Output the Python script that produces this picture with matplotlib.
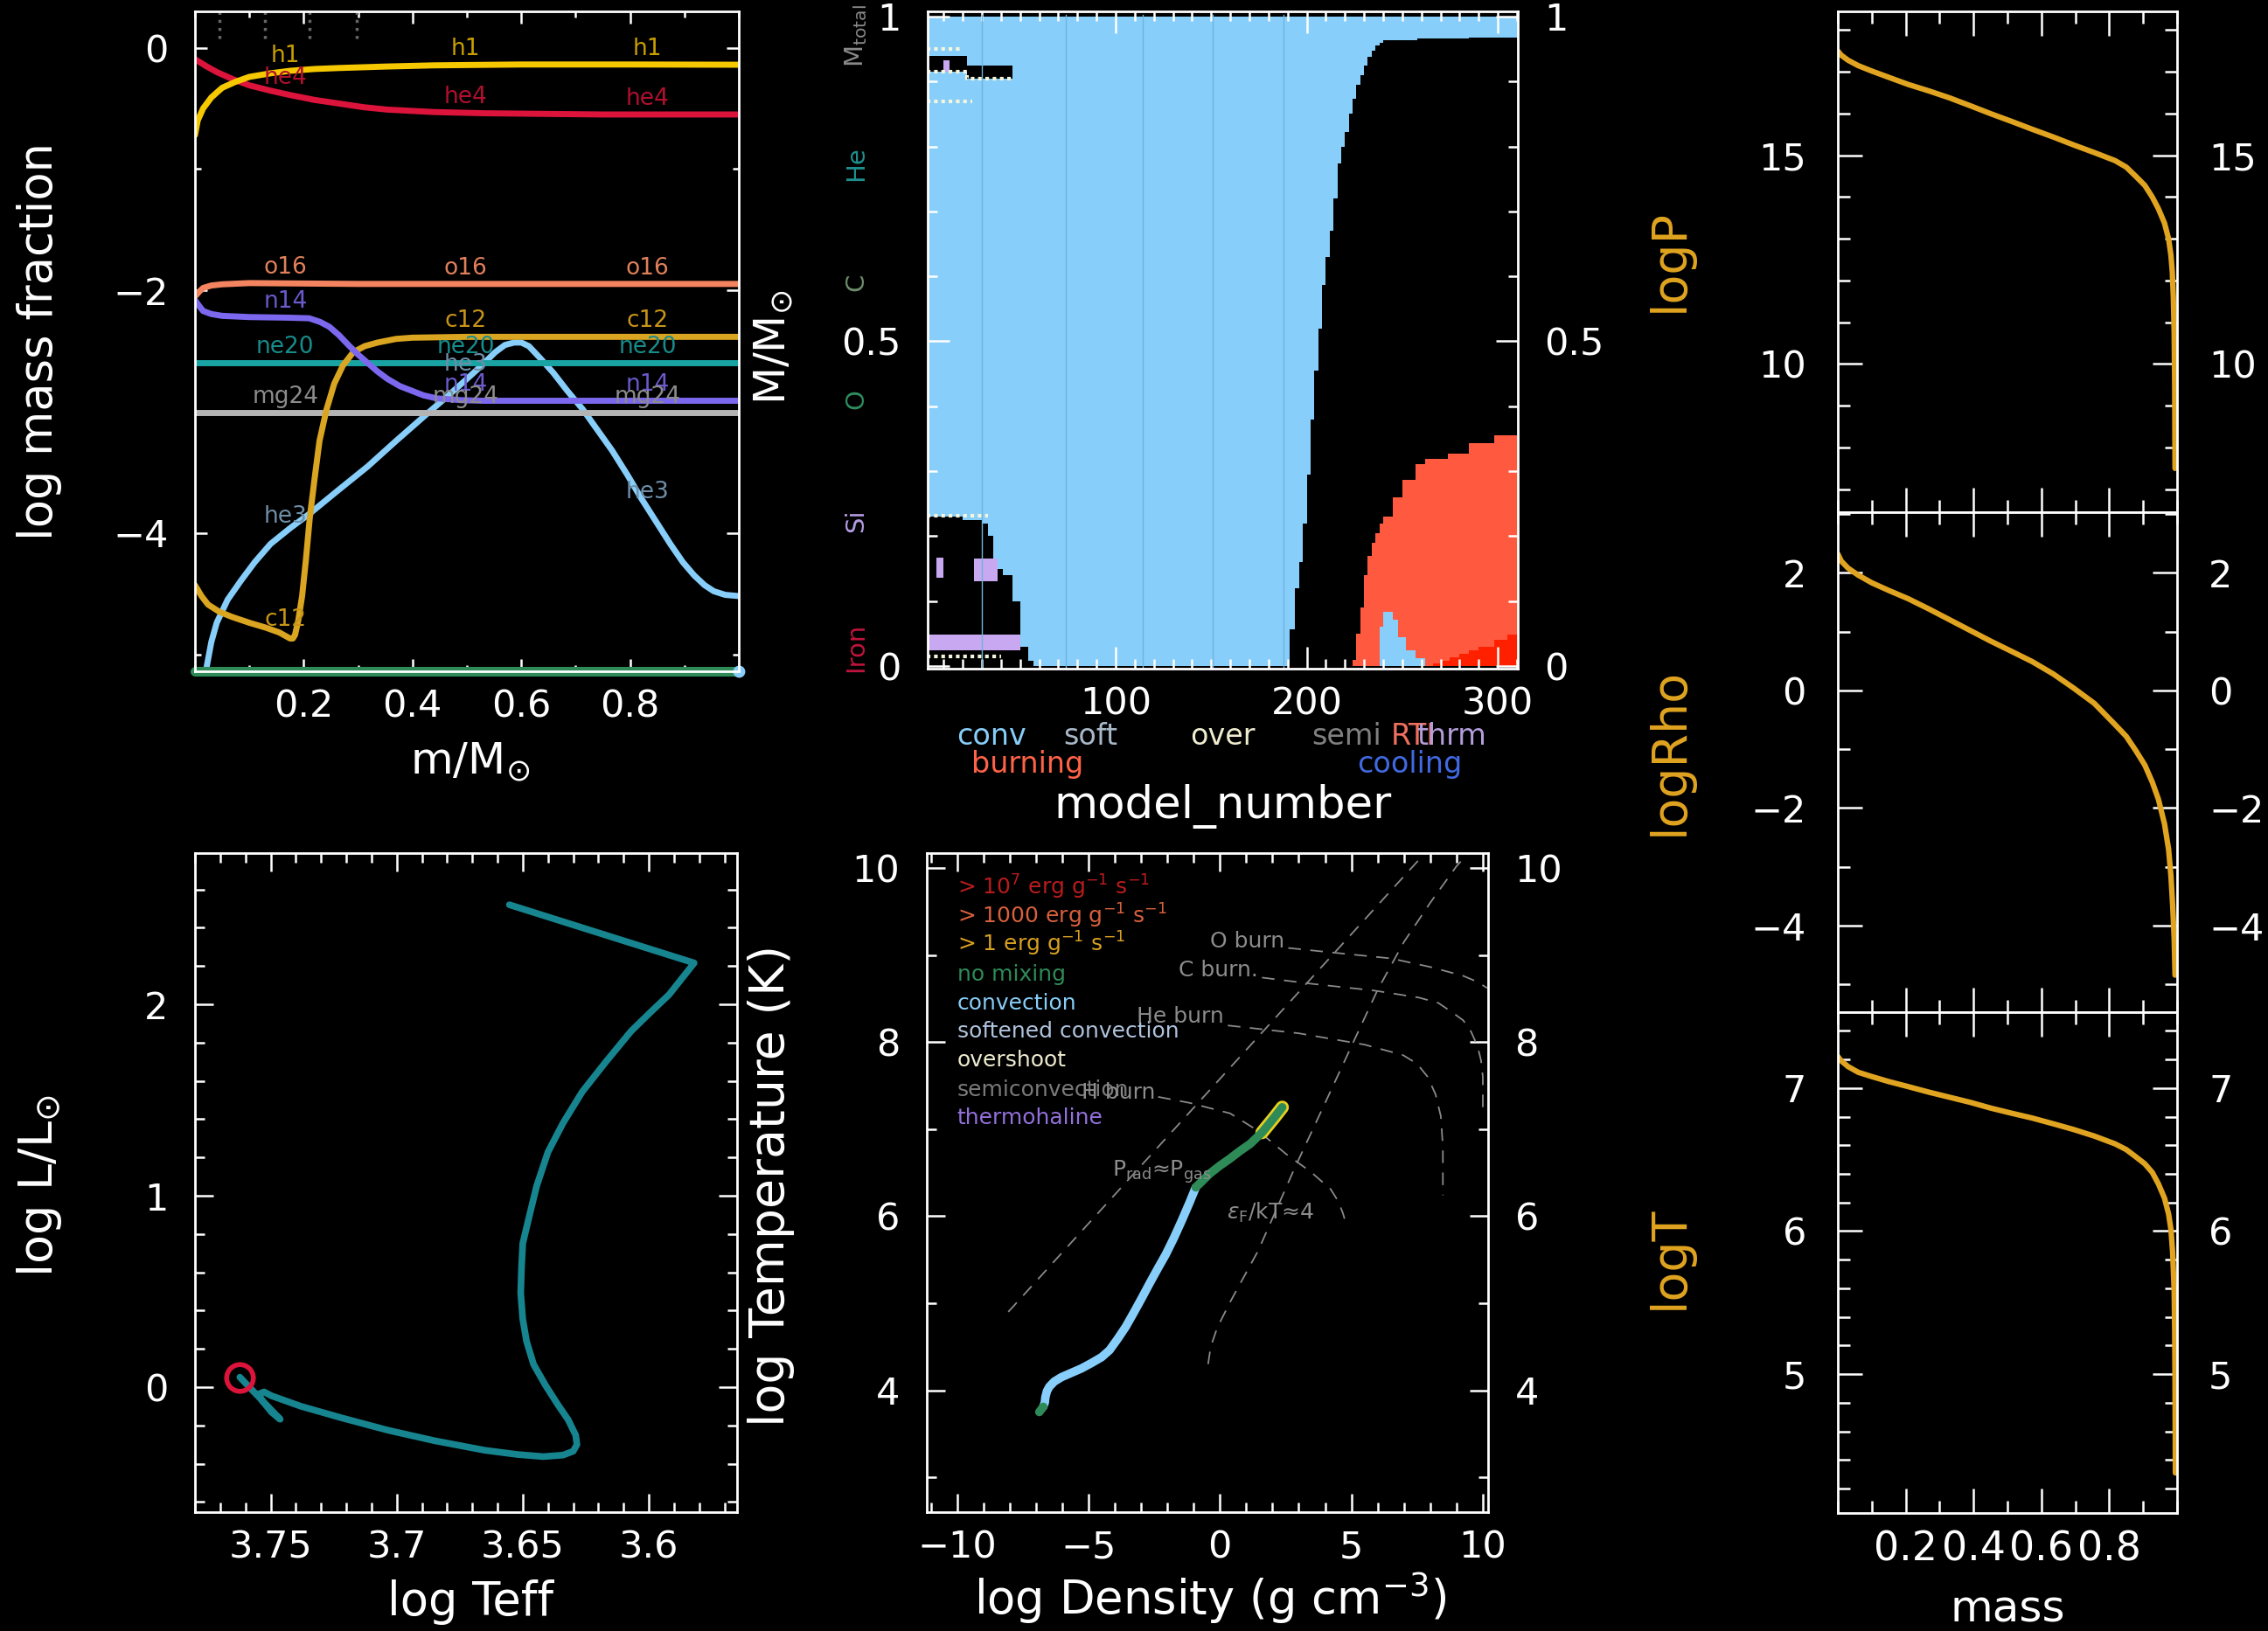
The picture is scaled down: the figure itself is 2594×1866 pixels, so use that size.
import numpy as np
import matplotlib
matplotlib.use('Agg')
import matplotlib.pyplot as plt
from matplotlib.ticker import MultipleLocator, FixedLocator

W, H = 2594, 1866
plt.rcParams['font.family'] = ['DejaVu Sans']
plt.rcParams['mathtext.fontset'] = 'dejavusans'

# ---------------- abundance profiles (m/Msun vs log mass fraction) ----------------
h1_m = [0.0, 0.005, 0.015, 0.03, 0.05, 0.075, 0.10, 0.14, 0.175, 0.22, 0.265, 0.35, 0.44, 0.6, 0.8, 1.0]
h1_x = [-0.72, -0.60, -0.50, -0.41, -0.33, -0.28, -0.24, -0.21, -0.19, -0.175, -0.167, -0.155, -0.145,
        -0.138, -0.138, -0.14]
he4_m = [0.0, 0.02, 0.04, 0.07, 0.10, 0.14, 0.175, 0.22, 0.265, 0.31, 0.354, 0.44, 0.533, 0.75, 1.0]
he4_x = [-0.094, -0.15, -0.20, -0.26, -0.31, -0.355, -0.39, -0.43, -0.46, -0.49, -0.51, -0.53, -0.54,
         -0.55, -0.55]
o16_m = [0.0, 0.008, 0.015, 0.03, 0.05, 0.10, 0.3, 1.0]
o16_x = [-2.05, -2.01, -1.98, -1.96, -1.95, -1.94, -1.947, -1.947]
n14_m = [0.0, 0.008, 0.015, 0.03, 0.05, 0.10, 0.17, 0.21, 0.23, 0.247, 0.265, 0.282, 0.30, 0.318, 0.336,
         0.354, 0.377, 0.40, 0.42, 0.444, 0.49, 0.53, 1.0]
n14_x = [-2.08, -2.13, -2.17, -2.195, -2.21, -2.22, -2.225, -2.23, -2.26, -2.30, -2.37, -2.45, -2.53,
         -2.60, -2.67, -2.73, -2.79, -2.83, -2.865, -2.89, -2.905, -2.91, -2.91]
c12_m = [0.0, 0.012, 0.024, 0.045, 0.067, 0.10, 0.13, 0.155, 0.175, 0.18, 0.184, 0.19, 0.197, 0.204,
         0.211, 0.22, 0.229, 0.242, 0.256, 0.272, 0.291, 0.312, 0.336, 0.37, 0.40, 0.50, 1.0]
c12_x = [-4.43, -4.52, -4.59, -4.65, -4.69, -4.74, -4.78, -4.82, -4.87, -4.87, -4.84, -4.72, -4.52,
         -4.22, -3.88, -3.55, -3.24, -2.98, -2.77, -2.62, -2.51, -2.46, -2.43, -2.40, -2.39, -2.383, -2.383]
ne20_m = [0.0, 1.0]
ne20_x = [-2.597, -2.597]
mg24_m = [0.0, 1.0]
mg24_x = [-3.01, -3.01]
he3_m = [0.02, 0.03, 0.04, 0.06, 0.085, 0.11, 0.139, 0.175, 0.211, 0.26, 0.318, 0.37, 0.426, 0.465,
         0.50, 0.527, 0.552, 0.57, 0.587, 0.60, 0.614, 0.635, 0.659, 0.685, 0.713, 0.74, 0.767, 0.795,
         0.82, 0.847, 0.874, 0.897, 0.918, 0.937, 0.954, 0.975, 1.0]
he3_x = [-5.14, -4.90, -4.74, -4.55, -4.39, -4.24, -4.09, -3.96, -3.84, -3.66, -3.45, -3.24, -3.02,
         -2.87, -2.73, -2.62, -2.51, -2.45, -2.43, -2.43, -2.46, -2.56, -2.68, -2.83, -2.98, -3.15,
         -3.32, -3.52, -3.71, -3.90, -4.09, -4.24, -4.35, -4.43, -4.48, -4.51, -4.52]
rest_m = [0.0, 1.0]
rest_x = [-5.14, -5.14]
iso_names = ['h1', 'he4', 'o16', 'n14', 'c12', 'ne20', 'mg24', 'he3']
iso_label_m = [0.166, 0.498, 0.832]
mix_marks_m = [0.045, 0.128, 0.211, 0.298]

# ---------------- HR track ----------------
hr_teff = [3.6553, 3.582, 3.592, 3.600, 3.607, 3.617, 3.6264, 3.634, 3.640, 3.6445, 3.6476, 3.650,
           3.6505, 3.6508, 3.650, 3.6485, 3.6457, 3.641, 3.636, 3.632, 3.629, 3.6285, 3.630, 3.634,
           3.6418, 3.652, 3.665, 3.685, 3.7035, 3.722, 3.738, 3.7497, 3.7526, 3.7545, 3.7536, 3.7497,
           3.7462, 3.7622]
hr_lum = [2.52, 2.216, 2.05, 1.95, 1.86, 1.70, 1.543, 1.38, 1.228, 1.05, 0.883, 0.75, 0.62, 0.49,
          0.356, 0.24, 0.119, 0.01, -0.093, -0.17, -0.251, -0.30, -0.335, -0.355, -0.363, -0.352,
          -0.33, -0.28, -0.225, -0.16, -0.10, -0.045, -0.025, -0.035, -0.066, -0.13, -0.168, 0.052]

# ---------------- T-Rho profile ----------------
prof_rho = [-6.87, -6.72, -6.66, -6.64, -6.58, -6.49, -6.3, -6.03, -5.65, -5.27, -4.9, -4.5, -4.2, -3.89,
            -3.58, -3.28, -2.97, -2.67, -2.36, -2.06, -1.75, -1.45, -1.15, -0.92, -0.65, -0.38, 0.0,
            0.38, 0.77, 1.15, 1.6, 2.06, 2.37]
prof_T = [3.75, 3.81, 3.86, 3.92, 3.99, 4.04, 4.10, 4.15, 4.20, 4.25, 4.31, 4.38, 4.46, 4.59,
          4.73, 4.89, 5.06, 5.23, 5.40, 5.56, 5.75, 5.95, 6.16, 6.33, 6.41, 6.49, 6.58,
          6.66, 6.75, 6.83, 6.96, 7.13, 7.25]
prad_rho = [-8.05, 7.8]
prad_T = [4.9, 10.17]
degen_rho = [-0.45, -0.35, -0.1, 0.4, 1.45, 2.84, 4.0, 5.0, 6.0, 7.0, 8.0, 9.0, 9.45]
degen_T = [4.3, 4.5, 4.72, 5.02, 5.6, 6.55, 7.3, 7.95, 8.6, 9.15, 9.6, 10.02, 10.17]
hburn_rho = [-2.35, -1.14, 0.39, 1.45, 2.53, 3.45, 4.21, 4.5, 4.67, 4.74]
hburn_T = [7.37, 7.30, 7.18, 6.98, 6.71, 6.51, 6.31, 6.17, 6.04, 5.97]
heburn_rho = [0.3, 3.0, 5.5, 6.96, 7.5, 7.9, 8.2, 8.4, 8.48, 8.48]
heburn_T = [8.19, 8.1, 7.97, 7.85, 7.75, 7.6, 7.4, 7.15, 6.8, 6.24]
cburn_rho = [1.6, 3.45, 5.89, 7.57, 8.3, 8.79, 9.25, 9.55, 9.8, 9.93, 10.0, 10.0]
cburn_T = [8.74, 8.67, 8.59, 8.51, 8.45, 8.35, 8.25, 8.12, 7.95, 7.79, 7.6, 7.25]
oburn_rho = [2.6, 4.21, 6.51, 8.03, 9.25, 9.8, 10.16]
oburn_T = [9.08, 9.03, 8.96, 8.86, 8.76, 8.69, 8.62]
legend_txt = [r'> 10$^{7}$ erg g$^{-1}$ s$^{-1}$', r'> 1000 erg g$^{-1}$ s$^{-1}$',
              r'> 1 erg g$^{-1}$ s$^{-1}$', 'no mixing', 'convection', 'softened convection',
              'overshoot', 'semiconvection', 'thermohaline']
legend_T = [9.78, 9.45, 9.13, 8.77, 8.44, 8.12, 7.79, 7.45, 7.13]

# ---------------- Kippenhahn ----------------
env_models = [1, 10, 20, 30, 33, 36, 38, 41, 46, 50, 54, 57, 191, 194, 196, 198, 200, 202, 204, 206,
              208, 210, 212, 214, 216, 218, 220, 222, 224, 226, 228, 230, 232, 234, 236, 238, 240,
              258, 285, 311]
env_base = [0.23, 0.23, 0.225, 0.22, 0.20, 0.155, 0.15, 0.14, 0.10, 0.03, 0.008, 0.0, 0.056, 0.12,
            0.16, 0.22, 0.295, 0.38, 0.455, 0.52, 0.587, 0.63, 0.67, 0.72, 0.774, 0.80, 0.822, 0.85,
            0.874, 0.895, 0.91, 0.925, 0.938, 0.948, 0.955, 0.96, 0.963, 0.966, 0.968, 0.974]
band_models = [1, 22, 46]
band_lo = [0.915, 0.905, 0.905]
band_hi = [0.94, 0.925, 0.925]
burn_models = [222, 224, 226, 228, 230, 232, 234, 236, 238, 240, 245, 250, 257, 262, 274, 285, 298, 311]
burn_top = [0.0, 0.01, 0.05, 0.09, 0.14, 0.17, 0.19, 0.205, 0.22, 0.23, 0.26, 0.287, 0.311, 0.319,
            0.327, 0.343, 0.355, 0.367]
core_models = [235, 238, 240, 245, 248, 252, 257, 262]
core_top = [0.0, 0.06, 0.084, 0.072, 0.044, 0.024, 0.012, 0.0]
hot_models = [262, 266, 270, 275, 280, 285, 290, 298, 305, 311]
hot_top = [0.0, 0.004, 0.008, 0.014, 0.019, 0.024, 0.03, 0.04, 0.048, 0.056]
thm_patches = [([6, 10], 0.136, 0.167), ([26, 38], 0.13, 0.165), ([1, 50], 0.024, 0.048), ([10, 13], 0.915, 0.932)]
grid_models = [30, 74, 114, 151, 188]
elem_names = [r'M$_{\rm total}$', 'He', 'C', 'O', 'Si', 'Iron']
elem_colors = ['#8a8a8a', '#1f8f8f', '#6e8f6e', '#2f8f60', '#b49be0', '#c0143c']
mix_words = ['conv', 'soft', 'over', 'semi', 'RTI', 'thrm', 'burning', 'cooling']

# ---------------- structure profiles ----------------
p_mass = [0.0, 0.01, 0.03, 0.06, 0.1, 0.15, 0.207, 0.27, 0.33, 0.39, 0.45, 0.51, 0.573, 0.635, 0.695,
          0.755, 0.817, 0.85, 0.878, 0.905, 0.927, 0.945, 0.963, 0.975, 0.982, 0.986, 0.989, 0.9915,
          0.993, 0.994]
p_logP = [17.5, 17.4, 17.28, 17.15, 17.02, 16.87, 16.7, 16.54, 16.375, 16.19, 16.0, 15.82, 15.625,
          15.44, 15.25, 15.07, 14.875, 14.72, 14.5, 14.28, 14.0, 13.72, 13.375, 13.0, 12.6, 12.2, 11.6,
          10.75, 9.5, 7.5]
r_mass = [0.0, 0.01, 0.03, 0.06, 0.1, 0.15, 0.207, 0.27, 0.33, 0.39, 0.45, 0.51, 0.573, 0.635, 0.695,
          0.756, 0.817, 0.85, 0.878, 0.905, 0.927, 0.945, 0.963, 0.975, 0.982, 0.987, 0.9915, 0.994]
r_logRho = [2.32, 2.2, 2.08, 1.96, 1.83, 1.7, 1.56, 1.38, 1.2, 1.02, 0.84, 0.67, 0.49, 0.28, 0.04,
            -0.22, -0.58, -0.78, -1.02, -1.27, -1.56, -1.85, -2.27, -2.7, -3.16, -3.65, -4.22, -4.84]
t_mass = [0.0, 0.01, 0.03, 0.06, 0.1, 0.15, 0.207, 0.27, 0.33, 0.39, 0.45, 0.51, 0.573, 0.635, 0.695,
          0.755, 0.817, 0.85, 0.878, 0.905, 0.927, 0.945, 0.963, 0.975, 0.982, 0.987, 0.9915, 0.993,
          0.994, 0.995]
t_logT = [7.22, 7.19, 7.15, 7.11, 7.08, 7.045, 7.01, 6.97, 6.935, 6.90, 6.86, 6.825, 6.79, 6.75, 6.71,
          6.665, 6.61, 6.57, 6.52, 6.47, 6.41, 6.33, 6.23, 6.12, 6.01, 5.85, 5.58, 5.3, 4.93, 4.31]

GOLD = '#e0a420'
CONV = '#87cefa'


def rect(l, t, r, b):
    return [l / W, 1 - b / H, (r - l) / W, (b - t) / H]


def ftext(x, y, s, **kw):
    fig.text(x / W, 1 - y / H, s, ha=kw.pop('ha', 'center'), va=kw.pop('va', 'center'), **kw)


def style(ax, maj, mnr, ls=31):
    ax.set_facecolor('black')
    for sp in ax.spines.values():
        sp.set_color('white')
        sp.set_linewidth(2.0)
    ax.tick_params(which='both', direction='in', colors='white', top=True, right=True,
                   width=1.8, labelsize=ls)
    ax.tick_params(which='major', length=maj)
    ax.tick_params(which='minor', length=mnr)
    ax.tick_params(axis='x', pad=14)
    ax.tick_params(axis='y', pad=22)


fig = plt.figure(figsize=(W / 100, H / 100), dpi=100, facecolor='black')

# ===== abundance panel =====
ax1 = fig.add_axes(rect(223, 13, 845, 768))
style(ax1, 10, 5)
ax1.set_xlim(0, 1.0)
ax1.set_ylim(-5.14, 0.30)
series = [(h1_m, h1_x, '#f5c800', '#c9a000'), (he4_m, he4_x, '#dc143c', '#b0102e'),
          (o16_m, o16_x, '#f4845f', '#e0805a'), (n14_m, n14_x, '#7b68ee', '#6a5acd'),
          (c12_m, c12_x, '#daa520', '#c89418'), (ne20_m, ne20_x, '#1aa3a3', '#178c8c'),
          (mg24_m, mg24_x, '#b4b4b4', '#8c8c8c'), (he3_m, he3_x, CONV, '#6f8fa8')]
for xm, yv, c, lc in series[::-1]:
    ax1.plot(xm, yv, color=c, lw=5, solid_capstyle='round', solid_joinstyle='round')
ax1.plot(rest_m, rest_x, color='#2e8b57', lw=8, clip_on=False, solid_capstyle='round')
ax1.plot([1.0], [-5.14], 'o', color=CONV, ms=9, clip_on=False)
for name, (xm, yv, c, lc) in zip(iso_names, series):
    for lm in iso_label_m:
        yl = np.interp(lm, xm, yv)
        if yl < -5.0:
            continue
        ax1.text(lm, yl + 0.13, name, color=lc, fontsize=19, ha='center', va='center')
for mm in mix_marks_m:
    ax1.plot([mm, mm], [0.30, 0.04], color='#666666', lw=2.5, ls=':')
ax1.xaxis.set_major_locator(FixedLocator([0.2, 0.4, 0.6, 0.8]))
ax1.xaxis.set_minor_locator(MultipleLocator(0.1))
ax1.yaxis.set_major_locator(MultipleLocator(2))
ax1.yaxis.set_minor_locator(MultipleLocator(1))
ax1.set_xticklabels(['0.2', '0.4', '0.6', '0.8'])

# ===== Kippenhahn panel =====
ax2 = fig.add_axes(rect(1061, 13, 1736, 765))
style(ax2, 18, 8)
ax2.fill_between(env_models, env_base, 1.0, step='post', color=CONV, lw=0)
ax2.fill_between(band_models, band_lo, band_hi, step='post', color='black', lw=0)
ax2.plot(band_models, band_lo, drawstyle='steps-post', color='#f5f5dc', lw=3, ls=(0, (1, 1)))
ax2.plot([1, 25], [0.87, 0.87], color='#f5f5dc', lw=3, ls=(0, (1, 1)))
ax2.plot([1, 20], [0.95, 0.95], color='#f5f5dc', lw=3, ls=(0, (1, 1)))
for (mr, lo, hi) in thm_patches:
    ax2.fill_between(mr, lo, hi, color='#c8a8f0', lw=0)
ax2.plot([1, 33], [0.232, 0.232], color='#f5f5dc', lw=3, ls=(0, (1, 1)))
ax2.plot([1, 40], [0.015, 0.015], color='#f5f5dc', lw=3, ls=(0, (1, 1)))
for gm in grid_models:
    ax2.axvline(gm, ymin=0.0, ymax=0.995, color='#70b4dc', lw=1)
ax2.fill_between(burn_models, 0, burn_top, step='post', color='#ff5a40', lw=0)
ax2.fill_between(core_models, 0, core_top, step='post', color=CONV, lw=0)
ax2.fill_between(hot_models, 0, hot_top, step='post', color='#ff2000', lw=0)
ax2.set_xlim(1.6, 310.5)
ax2.set_ylim(-0.004, 1.008)
ax2.xaxis.set_major_locator(FixedLocator([100, 200, 300]))
ax2.xaxis.set_minor_locator(MultipleLocator(10))
ax2.yaxis.set_major_locator(FixedLocator([0, 0.5, 1]))
ax2.yaxis.set_minor_locator(MultipleLocator(0.1))
ax2.set_yticklabels(['0', '0.5', '1'])
ax2.tick_params(labelright=True)

# ===== HR panel =====
ax3 = fig.add_axes(rect(223, 976, 843, 1730))
style(ax3, 15, 8)
ax3.plot(hr_teff, hr_lum, color='#17858f', lw=5.5, solid_joinstyle='round', solid_capstyle='round')
ax3.plot([hr_teff[-1]], [hr_lum[-1]], 'o', ms=22, mfc='none', mec='#dc143c', mew=4)
ax3.set_xlim(3.780, 3.565)
ax3.set_ylim(-0.653, 2.79)
ax3.xaxis.set_major_locator(FixedLocator([3.6, 3.65, 3.7, 3.75]))
ax3.set_xticklabels(['3.6', '3.65', '3.7', '3.75'])
ax3.xaxis.set_minor_locator(MultipleLocator(0.01))
ax3.yaxis.set_major_locator(MultipleLocator(1))
ax3.yaxis.set_minor_locator(MultipleLocator(0.2))

# ===== T-Rho panel =====
ax4 = fig.add_axes(rect(1060, 976, 1702, 1730))
style(ax4, 15, 8)
for rx, ty in [(prad_rho, prad_T), (degen_rho, degen_T), (hburn_rho, hburn_T),
               (heburn_rho, heburn_T), (cburn_rho, cburn_T), (oburn_rho, oburn_T)]:
    ax4.plot(rx, ty, color='#8a8a8a', lw=1.3, ls=(0, (8, 6)))
ax4.plot(prof_rho[1:24], prof_T[1:24], color=CONV, lw=7, solid_capstyle='round', solid_joinstyle='round')
ax4.plot(prof_rho[30:], prof_T[30:], color='#e8d020', lw=11, solid_capstyle='round')
ax4.plot(prof_rho[23:], prof_T[23:], color='#2e8b57', lw=7, solid_capstyle='round', solid_joinstyle='round')
ax4.plot(prof_rho[:2], prof_T[:2], color='#2e8b57', lw=7, solid_capstyle='round')
leg_colors = ['#b81c1c', '#d8603c', '#d8a020', '#2e8b57', CONV, '#b0c4de', '#f0ecd0', '#7a7a7a', '#9370db']
for t, ty, c in zip(legend_txt, legend_T, leg_colors):
    ax4.text(-10.0, ty, t, color=c, fontsize=18, ha='left', va='center')
lab_c = '#8c8c8c'
ax4.text(-2.45, 7.42, 'H burn', color=lab_c, fontsize=18, ha='right', va='center')
ax4.text(0.15, 8.29, 'He burn', color=lab_c, fontsize=18, ha='right', va='center')
ax4.text(1.45, 8.82, 'C burn.', color=lab_c, fontsize=18, ha='right', va='center')
ax4.text(2.45, 9.16, 'O burn', color=lab_c, fontsize=18, ha='right', va='center')
ax4.text(-2.2, 6.51, 'P$_{\\rm rad}$\u2248P$_{\\rm gas}$', color=lab_c, fontsize=18, ha='center', va='center')
ax4.text(1.92, 6.04, '$\\epsilon_{\\rm F}$/kT\u22484', color=lab_c, fontsize=18, ha='center', va='center')
ax4.set_xlim(-11.15, 10.2)
ax4.set_ylim(2.6, 10.17)
ax4.xaxis.set_major_locator(MultipleLocator(5))
ax4.xaxis.set_minor_locator(MultipleLocator(1))
ax4.yaxis.set_major_locator(MultipleLocator(2))
ax4.yaxis.set_minor_locator(MultipleLocator(1))
ax4.tick_params(labelright=True)

# ===== structure profiles =====
bounds = [13, 586, 1158, 1731]
prof = [(p_mass, p_logP, (6.45, 18.45), 5, 1), (r_mass, r_logRho, (-5.47, 3.03), 2, 1),
        (t_mass, t_logT, (4.03, 7.53), 1, 0.2)]
for i, (mx, yv, yl, mj, mn) in enumerate(prof):
    ax = fig.add_axes(rect(2102, bounds[i], 2490, bounds[i + 1]))
    style(ax, 20, 10)
    ax.plot(mx, yv, color=GOLD, lw=4.5, solid_capstyle='round', solid_joinstyle='round')
    ax.set_xlim(0, 1.0)
    ax.set_ylim(*yl)
    ax.xaxis.set_major_locator(FixedLocator([0.2, 0.4, 0.6, 0.8]))
    ax.xaxis.set_minor_locator(MultipleLocator(0.1))
    ax.yaxis.set_major_locator(MultipleLocator(mj))
    ax.yaxis.set_minor_locator(MultipleLocator(mn))
    ax.tick_params(labelright=True)
    ax.tick_params(axis='y', pad=26)
    if i < 2:
        ax.tick_params(labelbottom=False)
    else:
        ax.set_xticklabels(['0.2', '0.4', '0.6', '0.8'])
        ax.tick_params(axis='x', labelsize=33)

# ===== labels =====
ftext(45, 390, 'log mass fraction', rotation=90, color='white', fontsize=38)
ftext(538, 872, r'm/M$_{\odot}$', color='white', fontsize=36)
ftext(885, 397, r'M/M$_{\odot}$', rotation=90, color='white', fontsize=36)
ftext(1398, 923, 'model_number', color='white', fontsize=37)
ftext(45, 1356, r'log L/L$_{\odot}$', rotation=90, color='white', fontsize=39)
ftext(538, 1833, 'log Teff', color='white', fontsize=38)
ftext(882, 1356, 'log Temperature (K)', rotation=90, color='white', fontsize=40)
ftext(1384, 1828, r'log Density (g cm$^{-3}$)', color='white', fontsize=38)
ftext(2296, 1841, 'mass', color='white', fontsize=36)
for s, yy in zip(['logP', 'logRho', 'logT'], [298, 860, 1439]):
    ftext(1910, yy, s, rotation=90, color=GOLD, fontsize=40)
for s, yy, c in zip(elem_names, [41, 187, 323, 457, 596, 741], elem_colors):
    ftext(979, yy, s, rotation=90, color=c, fontsize=21)
mix_pos = [(1134, 842), (1247, 842), (1398, 842), (1540, 842), (1616, 842), (1660, 842), (1175, 875), (1612, 875)]
mix_cols = [CONV, '#a8b8c8', '#f0ecd0', '#808080', '#f07060', '#b39ddb', '#ff6347', '#4169e1']
for s, (xx, yy), c in zip(mix_words, mix_pos, mix_cols):
    ftext(xx, yy, s, color=c, fontsize=24)

fig.savefig('out.png', dpi=100, facecolor='black')
